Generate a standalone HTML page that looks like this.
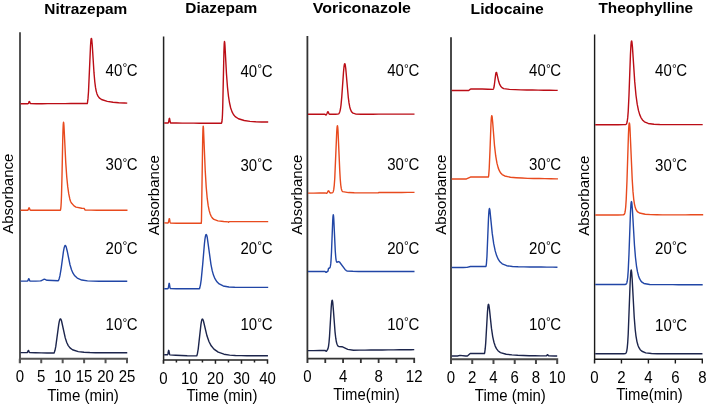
<!DOCTYPE html>
<html><head><meta charset="utf-8"><style>
html,body{margin:0;padding:0;background:#fff;width:708px;height:406px;overflow:hidden}
svg{display:block;will-change:transform}
text{font-family:"Liberation Sans", sans-serif;fill:#000}
</style></head><body>
<svg width="708" height="406" viewBox="0 0 708 406"><text x="44.3" y="13.6" font-size="15.5" font-weight="bold" textLength="83.0" lengthAdjust="spacingAndGlyphs">Nitrazepam</text><text transform="translate(12.7,193.7) rotate(-90)" font-size="15" text-anchor="middle">Absorbance</text><path d="M20.0 32.3V363.2M20.0 358.7H128.0M19.80 358.7V363.2M41.24 358.7V363.2M62.68 358.7V363.2M84.12 358.7V363.2M105.56 358.7V363.2M127.00 358.7V363.2" stroke="#555" stroke-width="2.0" fill="none"/><text transform="translate(19.80,382.1) scale(1,1.05)" font-size="15" text-anchor="middle">0</text><text transform="translate(41.24,382.1) scale(1,1.05)" font-size="15" text-anchor="middle">5</text><text transform="translate(62.68,382.1) scale(1,1.05)" font-size="15" text-anchor="middle">10</text><text transform="translate(84.12,382.1) scale(1,1.05)" font-size="15" text-anchor="middle">15</text><text transform="translate(105.56,382.1) scale(1,1.05)" font-size="15" text-anchor="middle">20</text><text transform="translate(127.00,382.1) scale(1,1.05)" font-size="15" text-anchor="middle">25</text><text transform="translate(47.3,401.3) scale(1,1.08)" font-size="15" textLength="71.6" lengthAdjust="spacingAndGlyphs">Time (min)</text><path d="M20.50 103.80 L26.25 103.77 L27.75 103.75 L28.00 103.69 L28.25 103.51 L28.50 103.12 L29.00 101.84 L29.25 101.47 L29.50 101.63 L30.25 103.38 L30.50 103.62 L36.25 103.73 L42.00 103.70 L47.75 103.67 L53.50 103.65 L59.25 103.62 L65.00 103.59 L70.75 103.56 L76.50 103.54 L82.25 103.51 L87.25 103.49 L87.50 102.46 L88.00 98.41 L88.50 91.68 L90.50 46.34 L90.75 42.38 L91.00 39.68 L91.25 38.33 L91.50 38.33 L91.75 39.56 L92.25 44.97 L94.00 72.92 L94.75 81.53 L95.50 87.42 L96.25 91.32 L97.00 93.92 L98.00 96.16 L99.25 97.85 L101.50 99.50 L107.25 101.40 L113.00 102.31 L118.75 102.77 L124.50 103.01 L127.25 103.08" stroke="#bb0d16" stroke-width="1.4" fill="none" stroke-linejoin="round"/><path d="M20.50 210.30 L26.25 210.30 L27.50 210.28 L27.75 210.23 L28.00 210.07 L28.25 209.69 L28.75 208.26 L29.00 207.75 L29.25 207.81 L30.00 209.79 L30.25 210.12 L30.50 210.25 L36.25 210.30 L42.00 210.30 L47.75 210.30 L53.50 210.30 L59.25 210.30 L60.25 210.30 L60.50 209.96 L60.75 208.59 L61.00 206.08 L61.25 201.89 L61.50 195.53 L62.00 175.67 L62.75 138.86 L63.00 129.90 L63.25 124.30 L63.50 122.22 L63.75 123.24 L64.00 126.57 L65.75 162.65 L66.75 176.97 L67.75 186.94 L68.75 193.88 L69.75 198.71 L70.50 201.23 L71.25 202.76 L74.00 205.85 L76.00 207.12 L81.75 208.25 L84.00 208.37 L84.25 208.56 L85.00 209.89 L85.25 210.01 L91.00 210.13 L96.75 210.18 L102.50 210.22 L108.25 210.25 L114.00 210.26 L119.75 210.28 L125.50 210.28 L127.50 210.29" stroke="#e84a1e" stroke-width="1.4" fill="none" stroke-linejoin="round"/><path d="M20.50 281.10 L26.25 281.10 L27.25 281.08 L27.50 281.02 L27.75 280.84 L28.00 280.43 L28.50 279.10 L28.75 278.71 L29.00 278.88 L29.75 280.71 L30.00 280.97 L35.75 281.10 L40.50 280.92 L41.75 280.51 L43.75 279.33 L44.25 279.23 L45.00 279.38 L47.00 280.28 L52.75 280.52 L58.25 280.70 L58.50 280.50 L59.25 278.49 L60.00 275.44 L61.25 267.86 L63.50 251.14 L64.25 247.38 L64.75 245.96 L65.00 245.60 L65.25 245.48 L65.50 245.59 L65.75 245.91 L66.25 247.11 L67.25 251.23 L70.00 264.76 L71.50 269.81 L73.00 273.20 L74.75 275.81 L77.25 278.10 L81.75 280.04 L87.50 280.88 L93.25 281.13 L99.00 281.18 L104.75 281.19 L110.50 281.20 L116.25 281.20 L122.00 281.20 L127.25 281.20" stroke="#2146a6" stroke-width="1.4" fill="none" stroke-linejoin="round"/><path d="M20.50 352.60 L26.25 352.67 L27.00 352.63 L27.25 352.52 L27.50 352.21 L28.25 350.40 L28.50 350.35 L28.75 350.83 L29.25 352.15 L29.50 352.50 L29.75 352.65 L35.50 352.79 L41.25 352.86 L47.00 352.94 L52.75 353.00 L54.00 352.99 L54.25 352.65 L55.00 350.27 L55.75 346.67 L58.75 324.43 L59.25 321.65 L59.75 319.78 L60.00 319.22 L60.25 318.92 L60.50 318.87 L60.75 319.04 L61.00 319.43 L61.50 320.76 L65.25 337.90 L66.75 342.55 L68.25 345.60 L70.00 347.86 L72.50 349.74 L78.25 351.58 L84.00 352.26 L89.75 352.57 L95.50 352.72 L101.25 352.78 L107.00 352.81 L112.75 352.82 L118.50 352.81 L124.25 352.80 L127.25 352.80" stroke="#1c254c" stroke-width="1.4" fill="none" stroke-linejoin="round"/><text transform="translate(105.6,75.90) scale(1,1.06)" font-size="15">40<tspan font-size="12" dx="0.2" dy="-3.3">°</tspan><tspan font-size="15" dx="-0.4" dy="3.3">C</tspan></text><text transform="translate(105.6,170.20) scale(1,1.06)" font-size="15">30<tspan font-size="12" dx="0.2" dy="-3.3">°</tspan><tspan font-size="15" dx="-0.4" dy="3.3">C</tspan></text><text transform="translate(105.6,253.70) scale(1,1.06)" font-size="15">20<tspan font-size="12" dx="0.2" dy="-3.3">°</tspan><tspan font-size="15" dx="-0.4" dy="3.3">C</tspan></text><text transform="translate(105.6,330.30) scale(1,1.06)" font-size="15">10<tspan font-size="12" dx="0.2" dy="-3.3">°</tspan><tspan font-size="15" dx="-0.4" dy="3.3">C</tspan></text><text x="185.3" y="13.0" font-size="15.5" font-weight="bold" textLength="72.0" lengthAdjust="spacingAndGlyphs">Diazepam</text><text transform="translate(158.5,195.3) rotate(-90)" font-size="15" text-anchor="middle">Absorbance</text><path d="M163.6 36.5V363.8M163.6 360.1H268.25M163.40 360.1V363.8M189.43 360.1V363.8M215.45 360.1V363.8M241.48 360.1V363.8M267.50 360.1V363.8M176.41 360.1V362.4M202.44 360.1V362.4M228.46 360.1V362.4M254.49 360.1V362.4" stroke="#222" stroke-width="1.5" fill="none"/><text transform="translate(163.40,383.6) scale(1,1.05)" font-size="15" text-anchor="middle">0</text><text transform="translate(189.43,383.6) scale(1,1.05)" font-size="15" text-anchor="middle">10</text><text transform="translate(215.45,383.6) scale(1,1.05)" font-size="15" text-anchor="middle">20</text><text transform="translate(241.48,383.6) scale(1,1.05)" font-size="15" text-anchor="middle">30</text><text transform="translate(267.50,383.6) scale(1,1.05)" font-size="15" text-anchor="middle">40</text><text transform="translate(186.5,401.3) scale(1,1.08)" font-size="15" textLength="70.9" lengthAdjust="spacingAndGlyphs">Time (min)</text><path d="M164.20 123.00 L167.95 122.99 L168.20 122.88 L168.45 122.51 L168.70 121.59 L169.20 118.68 L169.45 118.26 L169.70 119.19 L170.20 122.04 L170.45 122.72 L170.70 122.96 L176.45 123.07 L182.20 123.10 L187.95 123.13 L193.70 123.16 L199.45 123.19 L205.20 123.22 L210.95 123.25 L216.70 123.28 L221.20 123.28 L221.45 123.13 L221.70 122.64 L221.95 121.50 L222.20 119.19 L222.45 115.01 L222.70 108.31 L223.95 50.78 L224.20 44.19 L224.45 41.52 L224.70 42.26 L224.95 45.41 L226.45 73.57 L227.45 86.82 L228.45 96.04 L229.45 102.50 L230.70 108.00 L231.95 111.63 L233.45 114.48 L235.20 116.58 L238.45 118.75 L244.20 120.51 L249.95 121.34 L255.70 121.77 L261.45 121.97 L267.20 122.05 L268.20 122.05" stroke="#bb0d16" stroke-width="1.4" fill="none" stroke-linejoin="round"/><path d="M164.20 222.90 L167.95 222.99 L168.20 222.82 L168.45 222.28 L169.20 218.60 L169.45 218.74 L169.95 221.49 L170.20 222.50 L170.45 222.96 L170.70 223.10 L176.45 223.30 L182.20 223.30 L187.95 223.30 L193.70 223.30 L199.45 223.30 L201.20 223.30 L201.45 221.04 L202.70 138.00 L202.95 129.08 L203.20 126.12 L203.45 127.89 L205.20 170.28 L206.20 187.03 L207.20 198.21 L208.20 205.67 L209.20 210.67 L210.20 214.02 L211.20 216.28 L212.45 218.12 L213.95 219.43 L217.95 220.90 L223.70 221.56 L228.45 221.89 L228.70 222.15 L229.20 221.60 L234.95 221.60 L240.70 221.60 L246.45 221.60 L252.20 221.60 L257.95 221.60 L263.70 221.60 L268.20 221.60" stroke="#e84a1e" stroke-width="1.4" fill="none" stroke-linejoin="round"/><path d="M164.20 288.70 L167.70 288.68 L167.95 288.59 L168.20 288.25 L168.45 287.36 L168.95 284.08 L169.20 283.31 L169.45 284.08 L169.95 287.36 L170.20 288.25 L170.45 288.59 L176.20 288.72 L181.95 288.72 L187.70 288.73 L193.45 288.74 L199.20 288.74 L199.45 288.74 L199.70 288.12 L200.45 284.86 L201.20 279.84 L202.70 264.33 L204.45 243.50 L204.95 239.13 L205.45 236.12 L205.70 235.18 L205.95 234.63 L206.20 234.47 L206.45 234.68 L206.70 235.22 L207.20 237.21 L210.95 264.32 L212.20 270.66 L213.45 275.10 L214.95 278.71 L216.95 281.81 L219.20 283.98 L223.20 285.97 L228.95 286.98 L234.70 287.26 L240.45 287.34 L246.20 287.37 L251.95 287.38 L257.70 287.39 L263.45 287.39 L268.20 287.40" stroke="#2146a6" stroke-width="1.4" fill="none" stroke-linejoin="round"/><path d="M164.20 354.70 L167.20 354.82 L167.45 354.75 L167.70 354.47 L167.95 353.73 L168.45 350.96 L168.70 350.31 L168.95 350.98 L169.45 353.80 L169.70 354.57 L169.95 354.87 L175.70 355.23 L181.45 355.50 L187.20 355.77 L192.95 355.90 L196.70 355.89 L196.95 355.44 L197.45 353.49 L198.20 349.10 L200.95 324.34 L201.45 321.35 L201.70 320.30 L201.95 319.58 L202.20 319.18 L202.45 319.07 L202.70 319.23 L202.95 319.63 L203.45 321.00 L206.95 335.79 L208.95 341.53 L211.20 345.80 L213.95 349.17 L218.20 352.19 L223.95 354.19 L229.70 355.08 L235.45 355.49 L241.20 355.67 L246.95 355.75 L252.70 355.79 L258.45 355.80 L264.20 355.80 L267.95 355.80" stroke="#1c254c" stroke-width="1.4" fill="none" stroke-linejoin="round"/><text transform="translate(240.5,76.50) scale(1,1.06)" font-size="15">40<tspan font-size="12" dx="0.2" dy="-3.3">°</tspan><tspan font-size="15" dx="-0.4" dy="3.3">C</tspan></text><text transform="translate(240.5,170.90) scale(1,1.06)" font-size="15">30<tspan font-size="12" dx="0.2" dy="-3.3">°</tspan><tspan font-size="15" dx="-0.4" dy="3.3">C</tspan></text><text transform="translate(240.5,253.80) scale(1,1.06)" font-size="15">20<tspan font-size="12" dx="0.2" dy="-3.3">°</tspan><tspan font-size="15" dx="-0.4" dy="3.3">C</tspan></text><text transform="translate(240.5,330.30) scale(1,1.06)" font-size="15">10<tspan font-size="12" dx="0.2" dy="-3.3">°</tspan><tspan font-size="15" dx="-0.4" dy="3.3">C</tspan></text><text x="312.8" y="12.7" font-size="15.5" font-weight="bold" textLength="98.2" lengthAdjust="spacingAndGlyphs">Voriconazole</text><text transform="translate(301.8,194.6) rotate(-90)" font-size="15" text-anchor="middle">Absorbance</text><path d="M307.4 36.0V363.0M307.4 358.6H415.09999999999997M307.50 358.6V363.0M325.28 358.6V363.0M343.07 358.6V363.0M360.85 358.6V363.0M378.63 358.6V363.0M396.42 358.6V363.0M414.20 358.6V363.0" stroke="#333" stroke-width="1.8" fill="none"/><text transform="translate(307.50,381.90000000000003) scale(1,1.05)" font-size="15" text-anchor="middle">0</text><text transform="translate(343.07,381.90000000000003) scale(1,1.05)" font-size="15" text-anchor="middle">4</text><text transform="translate(378.63,381.90000000000003) scale(1,1.05)" font-size="15" text-anchor="middle">8</text><text transform="translate(414.20,381.90000000000003) scale(1,1.05)" font-size="15" text-anchor="middle">12</text><text transform="translate(333.3,399.59999999999997) scale(1,1.08)" font-size="15" textLength="66.3" lengthAdjust="spacingAndGlyphs">Time(min)</text><path d="M308.00 114.30 L313.75 114.29 L319.50 114.28 L325.00 114.30 L325.25 114.41 L325.75 114.92 L326.00 115.05 L326.25 114.86 L327.00 113.46 L327.50 112.18 L327.75 111.74 L328.00 111.70 L328.25 112.07 L328.75 113.31 L329.00 113.78 L329.25 114.05 L329.75 114.24 L335.50 114.25 L337.75 114.14 L338.50 113.87 L339.00 113.44 L339.50 112.60 L340.00 111.13 L340.50 108.73 L341.00 105.11 L341.75 97.10 L343.50 72.08 L344.00 66.85 L344.25 65.10 L344.50 64.01 L344.75 63.62 L345.00 63.91 L345.25 64.86 L345.75 68.48 L348.25 97.06 L349.00 102.92 L349.75 106.95 L350.50 109.57 L351.25 111.24 L352.00 112.30 L353.00 113.14 L355.50 113.94 L361.25 114.19 L367.00 114.19 L372.75 114.18 L378.50 114.17 L384.25 114.16 L390.00 114.15 L395.75 114.14 L401.50 114.12 L407.25 114.11 L413.00 114.10 L414.50 114.10" stroke="#bb0d16" stroke-width="1.4" fill="none" stroke-linejoin="round"/><path d="M308.00 193.10 L313.75 193.08 L319.50 193.07 L325.25 193.05 L326.00 193.11 L326.50 193.27 L326.75 193.24 L327.00 193.04 L328.25 190.89 L328.50 190.74 L328.75 190.88 L329.75 192.57 L330.00 192.81 L330.50 193.00 L332.00 192.92 L332.50 192.69 L332.75 192.45 L333.00 192.07 L333.25 191.49 L333.50 190.62 L333.75 189.38 L334.25 185.32 L334.75 178.46 L336.75 131.64 L337.00 128.05 L337.25 126.05 L337.50 125.81 L337.75 127.32 L338.00 130.45 L339.75 170.65 L340.25 179.25 L340.75 184.98 L341.25 188.40 L341.75 190.25 L342.25 191.19 L342.75 191.66 L348.50 192.57 L354.25 192.81 L360.00 192.89 L365.75 192.92 L371.50 192.91 L377.25 192.90 L378.25 192.90 L378.75 192.50 L384.50 192.48 L390.25 192.47 L396.00 192.45 L401.75 192.44 L407.50 192.42 L413.25 192.40 L414.50 192.40" stroke="#e84a1e" stroke-width="1.4" fill="none" stroke-linejoin="round"/><path d="M308.00 271.50 L313.75 271.50 L319.50 271.50 L324.75 271.52 L325.25 271.71 L326.00 272.38 L326.25 272.36 L327.00 271.68 L327.50 271.52 L327.75 271.50 L328.00 271.00 L328.50 268.43 L328.75 268.28 L329.25 268.21 L329.50 268.09 L329.75 267.87 L330.00 267.46 L330.25 266.73 L330.50 265.52 L330.75 263.63 L331.00 260.84 L331.50 251.98 L332.75 219.97 L333.00 216.28 L333.25 214.79 L333.50 215.62 L333.75 218.56 L335.25 250.76 L335.75 257.27 L336.00 259.31 L336.25 260.71 L336.50 261.59 L336.75 262.08 L337.00 262.27 L337.25 262.28 L338.25 261.64 L338.50 261.57 L338.75 261.59 L339.50 262.01 L345.00 269.45 L346.25 270.58 L347.00 270.97 L352.75 271.32 L358.50 271.43 L364.25 271.47 L370.00 271.49 L375.75 271.50 L381.50 271.50 L387.25 271.50 L393.00 271.50 L398.75 271.50 L404.50 271.50 L410.25 271.50 L414.50 271.50" stroke="#2146a6" stroke-width="1.4" fill="none" stroke-linejoin="round"/><path d="M308.00 350.65 L313.75 350.60 L319.50 350.54 L325.00 350.52 L325.50 350.73 L326.00 351.20 L326.25 351.32 L326.50 351.20 L327.50 349.70 L328.00 348.53 L328.50 346.31 L329.00 342.47 L329.50 336.59 L331.25 307.00 L331.50 303.92 L331.75 301.71 L332.00 300.47 L332.25 300.23 L332.50 300.98 L332.75 302.62 L333.50 311.35 L335.00 331.55 L335.75 338.22 L336.25 341.25 L336.75 343.37 L337.25 344.78 L337.75 345.69 L338.25 346.22 L338.75 346.50 L342.00 346.73 L347.75 349.37 L353.50 350.19 L359.25 350.16 L365.00 350.11 L370.75 350.06 L376.50 350.01 L382.25 349.95 L388.00 349.90 L393.75 349.84 L399.50 349.79 L405.25 349.74 L411.00 349.68 L414.25 349.65" stroke="#1c254c" stroke-width="1.4" fill="none" stroke-linejoin="round"/><text transform="translate(387.2,76.00) scale(1,1.06)" font-size="15">40<tspan font-size="12" dx="0.2" dy="-3.3">°</tspan><tspan font-size="15" dx="-0.4" dy="3.3">C</tspan></text><text transform="translate(387.2,170.40) scale(1,1.06)" font-size="15">30<tspan font-size="12" dx="0.2" dy="-3.3">°</tspan><tspan font-size="15" dx="-0.4" dy="3.3">C</tspan></text><text transform="translate(387.2,253.80) scale(1,1.06)" font-size="15">20<tspan font-size="12" dx="0.2" dy="-3.3">°</tspan><tspan font-size="15" dx="-0.4" dy="3.3">C</tspan></text><text transform="translate(387.2,329.90) scale(1,1.06)" font-size="15">10<tspan font-size="12" dx="0.2" dy="-3.3">°</tspan><tspan font-size="15" dx="-0.4" dy="3.3">C</tspan></text><text x="470.6" y="13.7" font-size="15.5" font-weight="bold" textLength="73.2" lengthAdjust="spacingAndGlyphs">Lidocaine</text><text transform="translate(446.3,194.75) rotate(-90)" font-size="15" text-anchor="middle">Absorbance</text><path d="M451.0 37.2V363.9M451.0 359.3H558.2M451.00 359.3V363.9M472.24 359.3V363.9M493.48 359.3V363.9M514.72 359.3V363.9M535.96 359.3V363.9M557.20 359.3V363.9" stroke="#4a4a4a" stroke-width="2.0" fill="none"/><text transform="translate(451.00,382.8) scale(1,1.05)" font-size="15" text-anchor="middle">0</text><text transform="translate(472.24,382.8) scale(1,1.05)" font-size="15" text-anchor="middle">2</text><text transform="translate(493.48,382.8) scale(1,1.05)" font-size="15" text-anchor="middle">4</text><text transform="translate(514.72,382.8) scale(1,1.05)" font-size="15" text-anchor="middle">6</text><text transform="translate(535.96,382.8) scale(1,1.05)" font-size="15" text-anchor="middle">8</text><text transform="translate(557.20,382.8) scale(1,1.05)" font-size="15" text-anchor="middle">10</text><text transform="translate(474.8,400.7) scale(1,1.08)" font-size="15" textLength="71.0" lengthAdjust="spacingAndGlyphs">Time (min)</text><path d="M451.70 90.50 L457.45 90.50 L463.20 90.50 L468.70 90.50 L470.45 89.17 L470.70 89.05 L476.45 89.05 L482.20 89.05 L487.95 89.22 L492.95 89.40 L493.20 89.21 L493.45 88.83 L493.70 88.22 L494.20 86.03 L495.70 74.20 L495.95 72.99 L496.20 72.38 L496.45 72.34 L496.70 72.81 L498.70 81.57 L499.70 84.45 L500.70 86.28 L501.95 87.64 L503.70 88.61 L509.45 89.34 L515.20 89.61 L520.95 89.86 L526.70 89.98 L532.45 90.07 L538.20 90.17 L543.95 90.24 L549.70 90.31 L555.45 90.37 L557.70 90.40" stroke="#bb0d16" stroke-width="1.4" fill="none" stroke-linejoin="round"/><path d="M451.70 178.95 L457.45 178.95 L463.20 178.95 L466.45 178.95 L470.45 177.03 L476.20 177.00 L481.95 177.00 L487.70 177.00 L488.45 177.00 L488.70 175.36 L489.20 168.74 L489.95 151.36 L490.95 124.48 L491.20 120.00 L491.45 117.06 L491.70 115.73 L491.95 115.88 L492.20 117.24 L492.70 122.47 L494.45 145.05 L495.70 155.98 L496.95 163.16 L498.20 167.87 L499.45 170.97 L500.70 173.01 L502.20 174.58 L504.70 175.97 L510.45 177.22 L516.20 177.70 L521.95 178.06 L527.70 178.33 L533.45 178.44 L539.20 178.55 L544.95 178.66 L550.70 178.76 L556.45 178.87 L557.95 178.90" stroke="#e84a1e" stroke-width="1.4" fill="none" stroke-linejoin="round"/><path d="M451.70 267.45 L457.45 267.45 L463.20 267.45 L466.95 267.41 L470.45 266.46 L476.20 266.45 L481.95 266.45 L485.95 266.45 L486.20 265.34 L486.45 263.31 L486.95 256.46 L488.45 219.27 L488.70 214.42 L488.95 210.97 L489.20 209.02 L489.45 208.49 L489.70 209.14 L489.95 210.68 L492.20 233.15 L493.70 243.72 L495.20 250.92 L496.70 255.83 L498.20 259.18 L499.95 261.79 L502.20 263.84 L506.70 265.71 L512.45 266.51 L518.20 266.80 L523.95 266.91 L529.70 266.97 L535.45 267.02 L541.20 267.07 L546.95 267.11 L552.70 267.16 L557.45 267.20" stroke="#2146a6" stroke-width="1.4" fill="none" stroke-linejoin="round"/><path d="M451.70 356.00 L457.45 355.96 L459.95 355.38 L465.70 355.96 L467.45 355.95 L467.70 355.86 L470.20 353.54 L470.45 353.45 L476.20 353.45 L481.95 353.45 L484.45 353.47 L484.70 352.54 L485.20 348.96 L485.70 343.14 L487.45 312.17 L487.95 306.42 L488.20 304.90 L488.45 304.32 L488.70 304.58 L488.95 305.57 L489.45 309.17 L491.45 328.17 L492.70 336.56 L493.95 342.24 L495.20 346.08 L496.45 348.66 L497.95 350.69 L500.45 352.57 L506.20 354.26 L511.95 354.88 L517.70 355.26 L523.45 355.51 L529.20 355.71 L534.95 355.82 L540.70 355.87 L546.20 355.87 L546.45 355.77 L546.70 355.55 L547.20 354.83 L547.45 354.63 L547.70 354.72 L548.45 355.72 L548.70 355.86 L554.45 355.98 L557.20 356.00" stroke="#1c254c" stroke-width="1.4" fill="none" stroke-linejoin="round"/><text transform="translate(529.1,76.10) scale(1,1.06)" font-size="15">40<tspan font-size="12" dx="0.2" dy="-3.3">°</tspan><tspan font-size="15" dx="-0.4" dy="3.3">C</tspan></text><text transform="translate(529.1,170.40) scale(1,1.06)" font-size="15">30<tspan font-size="12" dx="0.2" dy="-3.3">°</tspan><tspan font-size="15" dx="-0.4" dy="3.3">C</tspan></text><text transform="translate(529.1,253.70) scale(1,1.06)" font-size="15">20<tspan font-size="12" dx="0.2" dy="-3.3">°</tspan><tspan font-size="15" dx="-0.4" dy="3.3">C</tspan></text><text transform="translate(529.1,329.90) scale(1,1.06)" font-size="15">10<tspan font-size="12" dx="0.2" dy="-3.3">°</tspan><tspan font-size="15" dx="-0.4" dy="3.3">C</tspan></text><text x="598.5" y="12.5" font-size="15.5" font-weight="bold" textLength="94.6" lengthAdjust="spacingAndGlyphs">Theophylline</text><text transform="translate(588.8,195.8) rotate(-90)" font-size="15" text-anchor="middle">Absorbance</text><path d="M594.6 34.6V363.5M594.6 359.2H703.0M594.50 359.2V363.5M621.45 359.2V363.5M648.40 359.2V363.5M675.35 359.2V363.5M702.30 359.2V363.5" stroke="#1a1a1a" stroke-width="1.4" fill="none"/><text transform="translate(594.50,382.8) scale(1,1.05)" font-size="15" text-anchor="middle">0</text><text transform="translate(621.45,382.8) scale(1,1.05)" font-size="15" text-anchor="middle">2</text><text transform="translate(648.40,382.8) scale(1,1.05)" font-size="15" text-anchor="middle">4</text><text transform="translate(675.35,382.8) scale(1,1.05)" font-size="15" text-anchor="middle">6</text><text transform="translate(702.30,382.8) scale(1,1.05)" font-size="15" text-anchor="middle">8</text><text transform="translate(616.3,399.8) scale(1,1.08)" font-size="15" textLength="66.3" lengthAdjust="spacingAndGlyphs">Time(min)</text><path d="M595.20 124.70 L600.95 124.69 L606.70 124.69 L612.45 124.68 L618.20 124.68 L623.95 124.67 L625.45 124.58 L625.95 124.39 L626.20 124.19 L626.45 123.86 L626.70 123.36 L626.95 122.61 L627.20 121.52 L627.70 117.89 L628.20 111.60 L628.95 96.04 L630.45 54.39 L630.95 45.16 L631.20 42.45 L631.45 41.08 L631.70 41.01 L631.95 42.10 L632.45 47.08 L634.70 81.42 L635.95 94.99 L637.20 104.18 L638.45 110.41 L639.70 114.65 L640.95 117.56 L642.45 119.89 L644.45 121.78 L648.20 123.46 L653.95 124.29 L659.70 124.52 L665.45 124.59 L671.20 124.61 L676.95 124.62 L682.70 124.62 L688.45 124.61 L694.20 124.61 L699.95 124.60 L702.70 124.60" stroke="#bb0d16" stroke-width="1.4" fill="none" stroke-linejoin="round"/><path d="M595.20 215.00 L600.95 214.99 L606.70 214.98 L612.45 214.97 L618.20 214.96 L623.20 214.89 L623.70 214.75 L624.20 214.36 L624.45 213.97 L624.70 213.38 L624.95 212.49 L625.20 211.21 L625.70 206.97 L626.20 199.63 L626.95 181.54 L628.45 134.25 L628.70 128.88 L628.95 125.13 L629.20 123.17 L629.45 123.03 L629.70 124.64 L629.95 127.79 L632.20 179.24 L632.95 191.16 L633.70 199.05 L634.45 204.11 L635.20 207.33 L635.95 209.40 L636.70 210.77 L637.70 211.93 L639.45 213.03 L645.20 214.26 L650.95 214.64 L656.70 214.79 L662.45 214.84 L668.20 214.85 L673.95 214.85 L679.70 214.84 L685.45 214.83 L691.20 214.82 L696.95 214.81 L702.70 214.80 L703.20 214.80" stroke="#e84a1e" stroke-width="1.4" fill="none" stroke-linejoin="round"/><path d="M595.20 284.45 L600.95 284.47 L606.70 284.48 L612.45 284.50 L618.20 284.51 L623.95 284.53 L625.45 284.44 L625.95 284.25 L626.20 284.04 L626.45 283.70 L626.70 283.18 L626.95 282.40 L627.20 281.26 L627.70 277.46 L628.20 270.89 L628.95 254.73 L630.45 212.84 L630.95 204.39 L631.20 202.25 L631.45 201.55 L631.70 202.20 L631.95 204.05 L632.45 210.53 L634.45 244.95 L635.45 257.22 L636.45 265.76 L637.45 271.64 L638.45 275.68 L639.45 278.45 L640.70 280.74 L641.95 282.18 L643.95 283.45 L649.70 284.47 L655.45 284.60 L661.20 284.63 L666.95 284.65 L672.70 284.67 L678.45 284.68 L684.20 284.70 L689.95 284.71 L695.70 284.73 L701.45 284.75 L702.70 284.75" stroke="#2146a6" stroke-width="1.4" fill="none" stroke-linejoin="round"/><path d="M595.20 353.80 L600.95 353.80 L606.70 353.80 L612.45 353.80 L618.20 353.80 L623.95 353.79 L625.20 353.66 L625.70 353.39 L625.95 353.12 L626.20 352.70 L626.45 352.07 L626.70 351.16 L627.20 348.10 L627.70 342.70 L628.20 334.25 L630.20 281.24 L630.70 272.84 L630.95 270.70 L631.20 270.02 L631.45 270.73 L631.70 272.71 L632.20 279.66 L634.20 316.95 L635.20 329.48 L635.95 335.85 L636.95 341.57 L637.95 345.25 L638.95 347.68 L640.20 349.65 L641.95 351.27 L645.70 352.82 L651.45 353.54 L657.20 353.73 L662.95 353.78 L668.70 353.79 L674.45 353.80 L680.20 353.80 L685.95 353.80 L691.70 353.80 L697.45 353.80 L702.45 353.80" stroke="#1c254c" stroke-width="1.4" fill="none" stroke-linejoin="round"/><text transform="translate(655.1,76.10) scale(1,1.06)" font-size="15">40<tspan font-size="12" dx="0.2" dy="-3.3">°</tspan><tspan font-size="15" dx="-0.4" dy="3.3">C</tspan></text><text transform="translate(655.1,170.60) scale(1,1.06)" font-size="15">30<tspan font-size="12" dx="0.2" dy="-3.3">°</tspan><tspan font-size="15" dx="-0.4" dy="3.3">C</tspan></text><text transform="translate(655.1,253.50) scale(1,1.06)" font-size="15">20<tspan font-size="12" dx="0.2" dy="-3.3">°</tspan><tspan font-size="15" dx="-0.4" dy="3.3">C</tspan></text><text transform="translate(655.1,331.00) scale(1,1.06)" font-size="15">10<tspan font-size="12" dx="0.2" dy="-3.3">°</tspan><tspan font-size="15" dx="-0.4" dy="3.3">C</tspan></text></svg>
</body></html>
